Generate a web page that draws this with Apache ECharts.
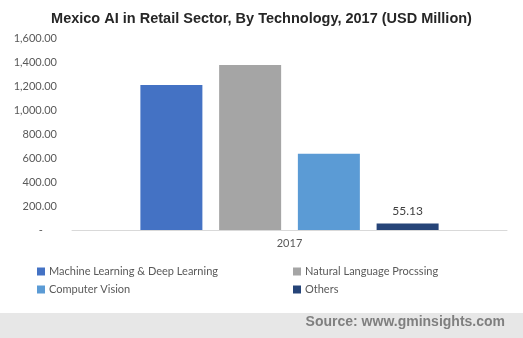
<!DOCTYPE html>
<html><head><meta charset="utf-8">
<script src="https://cdn.jsdelivr.net/npm/echarts@6/dist/echarts.min.js"></script>
<style>html,body{margin:0;padding:0;background:#fff}#c{width:523px;height:338px}</style>
</head><body><div id="c"></div>
<script>
const categories = ['2017'];
const seriesNames = ['Machine Learning & Deep Learning', 'Natural Language Procssing', 'Computer Vision', 'Others'];
const mlValues = [1208];
const nlpValues = [1375];
const cvValues = [636];
const othersValues = [55.13];
const yTicks = [0, 200, 400, 600, 800, 1000, 1200, 1400, 1600];

const colors = ['#4472C4', '#A5A5A5', '#5B9BD5', '#264478'];
const allValues = [mlValues, nlpValues, cvValues, othersValues];
const font = 'Lato, "Open Sans", sans-serif';

const chart = echarts.init(document.getElementById('c'));
const legendPos = [[37, 266], [293, 266], [37, 284], [293, 284]];
chart.setOption({
  animation: false,
  title: {
    text: 'Mexico AI in Retail Sector, By Technology, 2017 (USD Million)',
    left: 'center', top: 6,
    textStyle: {fontFamily: '"Liberation Sans", Arial, sans-serif', fontWeight: 'bold', fontSize: 14.5, color: '#262626'}
  },
  grid: {left: 72, right: 16, top: 38, bottom: 108},
  legend: seriesNames.map((n, i) => ({
    data: [n], left: legendPos[i][0], top: legendPos[i][1],
    padding: 0,
    itemWidth: 8, itemHeight: 8, itemGap: 4,
    icon: 'rect',
    textStyle: {fontFamily: font, fontSize: 11, color: '#595959', padding: [0, 0, 0, -1]}
  })),
  xAxis: {
    type: 'category', data: categories,
    axisLine: {lineStyle: {color: '#d9d9d9'}},
    axisTick: {show: false},
    axisLabel: {fontFamily: font, fontSize: 11, color: '#595959', margin: 8}
  },
  yAxis: {
    type: 'value', min: yTicks[0], max: yTicks[yTicks.length - 1], interval: 200,
    splitLine: {show: false},
    axisLine: {show: false}, axisTick: {show: false},
    axisLabel: {
      fontFamily: font, fontSize: 11, color: '#595959', margin: 15,
      formatter: v => v === 0 ? '-     ' : v.toLocaleString('en-US', {minimumFractionDigits: 2, maximumFractionDigits: 2})
    }
  },
  series: seriesNames.map((n, i) => ({
    name: n, type: 'bar', data: allValues[i],
    barWidth: 62, barGap: '27%',
    itemStyle: {color: colors[i]},
    label: i === 3 ? {show: true, position: 'top', distance: 6, fontFamily: font, fontSize: 12, color: '#404040', formatter: p => p.value.toFixed(2)} : {show: false}
  })),
  graphic: [
    {type: 'rect', left: 0, top: 313, shape: {width: 523, height: 25}, style: {fill: '#e7e7e7'}, z: -1},
    {type: 'text', right: 18, top: 315, style: {text: 'Source: www.gminsights.com', font: 'bold 14px "Liberation Sans", Arial, sans-serif', fill: '#7f7f7f'}}
  ]
});
</script></body></html>
